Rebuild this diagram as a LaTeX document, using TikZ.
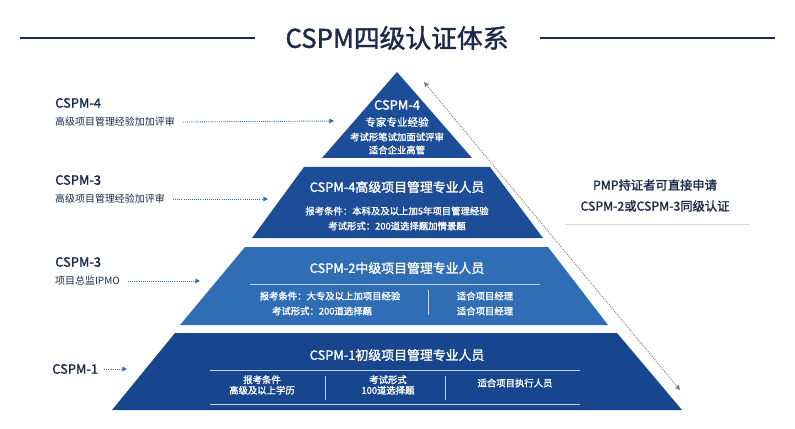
\documentclass[tikz,border=0pt]{standalone}
\usepackage{fontspec}
\setmainfont{Noto Sans CJK SC}
\newfontfamily\cjkb{Noto Sans CJK SC}[FakeBold=1.5]
\usetikzlibrary{arrows.meta}
\definecolor{navy}{HTML}{1B2A4A}
\definecolor{tdark}{HTML}{1C4D96}
\definecolor{tmid}{HTML}{2F6DB5}
\definecolor{tbot}{HTML}{17458E}
\definecolor{arr}{HTML}{3A6EA8}
\begin{document}
\begin{tikzpicture}[x=0.03cm,y=-0.03cm,
  wt/.style={text=white,font=\cjkb\fontsize{8}{9}\selectfont,align=center,inner sep=0},
  wtt/.style={text=white,font=\cjkb\fontsize{11}{12}\selectfont,inner sep=0},
  lab/.style={text=navy,font=\cjkb\fontsize{11}{12}\selectfont,anchor=west,inner sep=0},
  sub/.style={text=navy,font=\fontsize{8.5}{10}\selectfont,anchor=west,inner sep=0},
  dots/.style={densely dotted,arr,thick,-{Triangle[length=4pt,width=4pt]}},
  sep/.style={white!70!tmid,line width=0.5pt}]
\fill[white] (0,0) rectangle (795,429);
\useasboundingbox (0,0) rectangle (795,429);
% title
\node[text=navy,font=\cjkb\fontsize{22}{24}\selectfont,inner sep=0] (title) at (397,38) {CSPM四级认证体系};
\draw[navy,line width=1.2pt] (20,38) -- (255,38);
\draw[navy,line width=1.2pt] (540,38) -- (775,38);
% tiers
\fill[tdark] (397,72) -- (472,158) -- (322,158) -- cycle;
\fill[tdark] (304,167) -- (490,167) -- (543,238) -- (252,238) -- cycle;
\fill[tmid] (245,247) -- (548,247) -- (608,325) -- (180,325) -- cycle;
\fill[tbot] (175,333) -- (617,333) -- (682,410) -- (112,410) -- cycle;
% tier 1
\node[wtt] (t1) at (397,105) {CSPM-4};
\node[wt,font=\cjkb\fontsize{9}{10}\selectfont] (t1a) at (397,122) {专家专业经验};
\node[wt] (t1b) at (397,137) {考试形笔试加面试评审};
\node[wt] (t1c) at (397,150) {适合企业高管};
% tier 2
\node[wtt] (t2) at (397,187) {CSPM-4高级项目管理专业人员};
\node[wt] (t2a) at (397,211) {报考条件：本科及及以上加5年项目管理经验};
\node[wt] (t2b) at (397,226) {考试形式：200道选择题加情景题};
% tier 3
\node[wtt] (t3) at (397,268) {CSPM-2中级项目管理专业人员};
\draw[sep] (250,284) -- (540,284);
\node[wt] (t3a) at (330,296) {报考条件：大专及以上加项目经验};
\node[wt] (t3b) at (322,311) {考试形式：200道选择题};
\draw[sep] (428,290) -- (428,315);
\node[wt] (t3c) at (485,296) {适合项目经理};
\node[wt] (t3d) at (485,311) {适合项目经理};
% tier 4
\node[wtt] (t4) at (397,355) {CSPM-1初级项目管理专业人员};
\draw[sep] (210,370) -- (580,370);
\node[wt] (t4a) at (262,385) {报考条件\\高级及以上学历};
\draw[sep] (325,376) -- (325,400);
\node[wt] (t4b) at (388,385) {考试形式\\100道选择题};
\draw[sep] (445,376) -- (445,400);
\node[wt] (t4c) at (515,383) {适合项目执行人员};
\draw[sep] (210,404) -- (580,404);
% left labels
\node[lab] (l1) at (55,103) {CSPM-4};
\node[sub] (l1s) at (55,122) {高级项目管理经验加加评审};
\coordinate (e1) at (334,121);
\draw[dots] (l1s.east)++(8,0) -- (e1);
\node[lab] (l2) at (55,180) {CSPM-3};
\node[sub] (l2s) at (55,199) {高级项目管理经验加评审};
\coordinate (e2) at (268,199);
\draw[dots] (l2s.east)++(8,0) -- (e2);
\node[lab] (l3) at (55,262) {CSPM-3};
\node[sub] (l3s) at (55,281) {项目总监IPMO};
\coordinate (e3) at (200,281);
\draw[dots] (l3s.east)++(8,0) -- (e3);
\node[lab] (l4) at (52,369) {CSPM-1};
\coordinate (e4) at (127,369);
\draw[dots] (l4.east)++(6,0) -- (e4);
% right side
\coordinate (ra) at (680,390);
\coordinate (rb) at (424,82);
\draw[densely dotted,gray,thick,{Triangle[length=4pt,width=4pt]}-{Triangle[length=4pt,width=4pt]}] (rb) -- (ra);
\node[text=navy,font=\cjkb\fontsize{10.5}{12}\selectfont,inner sep=0] (r1) at (655,185) {PMP持证者可直接申请};
\node[text=navy,font=\cjkb\fontsize{10.5}{12}\selectfont,inner sep=0] (r2) at (655,206) {CSPM-2或CSPM-3同级认证};
\draw[gray!30] (565,224) -- (750,224);
\end{tikzpicture}
\end{document}
